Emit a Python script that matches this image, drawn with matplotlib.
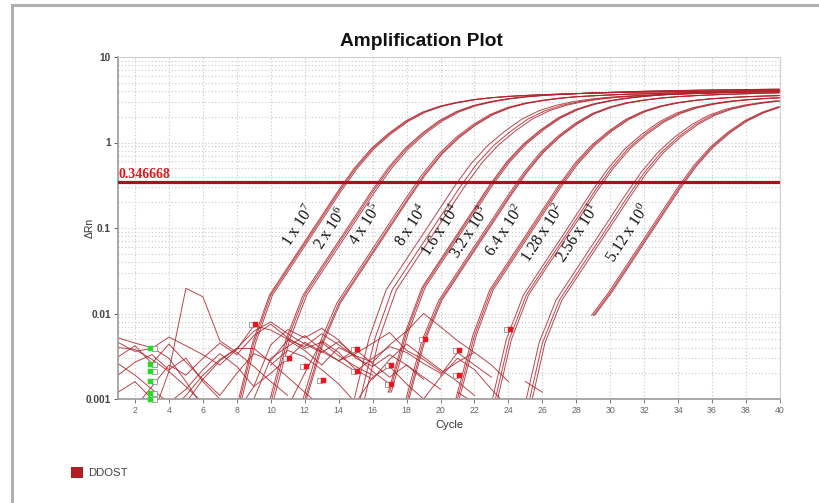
import numpy as np
import matplotlib
matplotlib.use('Agg')
import matplotlib.pyplot as plt
from matplotlib.transforms import offset_copy
from matplotlib.patches import Rectangle

plt.rcParams['font.family'] = ['Liberation Sans', 'DejaVu Sans']
plt.rcParams['mathtext.fontset'] = 'custom'
plt.rcParams['mathtext.rm'] = 'Liberation Serif'
plt.rcParams['mathtext.it'] = 'Liberation Serif:italic'

# ---------------- data ----------------
threshold = 0.346668

dilution_labels = [r'$\mathrm{1\ x\ 10^{7}}$', r'$\mathrm{2\ x\ 10^{6}}$', r'$\mathrm{4\ x\ 10^{5}}$',
                   r'$\mathrm{8\ x\ 10^{4}}$', r'$\mathrm{1.6\ x\ 10^{4}}$', r'$\mathrm{3.2\ x\ 10^{3}}$',
                   r'$\mathrm{6.4\ x\ 10^{2}}$', r'$\mathrm{1.28\ x\ 10^{2}}$', r'$\mathrm{2.56\ x\ 10^{1}}$',
                   r'$\mathrm{5.12\ x\ 10^{0}}$']

# first cycle of each dilution's amplification curve
curve_start = [8, 10, 12, 15, 17, 18, 21, 23, 25, 29]

g1 = [0.0007, 0.0045, 0.0164, 0.0329, 0.0657, 0.131, 0.263, 0.50, 0.85, 1.27, 1.77, 2.26, 2.65, 2.94,
      3.17, 3.34, 3.46, 3.55, 3.62, 3.68, 3.73, 3.78, 3.83, 3.86, 3.89, 3.91, 3.94, 3.96, 3.99, 4.01,
      4.03, 4.04, 4.05]
g2 = [0.0009, 0.0050, 0.0164, 0.0329, 0.0657, 0.131, 0.263, 0.50, 0.85, 1.28, 1.79, 2.29, 2.70, 3.00,
      3.24, 3.42, 3.55, 3.65, 3.73, 3.80, 3.86, 3.92, 3.97, 4.01, 4.05, 4.08, 4.11, 4.14, 4.16, 4.18, 4.20]
g3 = [0.0010, 0.0046, 0.0133, 0.0267, 0.0534, 0.107, 0.214, 0.417, 0.736, 1.14, 1.61, 2.12, 2.55, 2.87,
      3.10, 3.29, 3.43, 3.52, 3.60, 3.67, 3.71, 3.76, 3.81, 3.86, 3.88, 3.91, 3.93, 3.96, 3.98]
g4 = [0.0008, 0.0052, 0.0189, 0.0378, 0.0755, 0.151, 0.302, 0.566, 0.93, 1.36, 1.88, 2.35, 2.72, 3.0,
      3.21, 3.37, 3.48, 3.56, 3.64, 3.69, 3.74, 3.79, 3.84, 3.87, 3.90, 3.92]
g5 = [0.0012, 0.0060, 0.0203, 0.0405, 0.081, 0.162, 0.324, 0.60, 0.975, 1.42, 1.94, 2.42, 2.80, 3.08,
      3.30, 3.47, 3.60, 3.70, 3.79, 3.86, 3.93, 3.99, 4.04, 4.08]
g6 = [0.0009, 0.0048, 0.0143, 0.0286, 0.0572, 0.114, 0.229, 0.443, 0.771, 1.18, 1.66, 2.17, 2.58, 2.90,
      3.13, 3.31, 3.44, 3.53, 3.61, 3.67, 3.72, 3.77, 3.82]
g7 = [0.0010, 0.0055, 0.0189, 0.0378, 0.0755, 0.151, 0.302, 0.566, 0.93, 1.36, 1.86, 2.31, 2.66, 2.92,
      3.11, 3.25, 3.35, 3.43, 3.49, 3.54]
g8 = [0.0007, 0.0050, 0.0164, 0.0329, 0.0657, 0.131, 0.263, 0.50, 0.85, 1.26, 1.74, 2.20, 2.56, 2.82,
      3.02, 3.16, 3.26, 3.34]
g9 = [0.0006, 0.0045, 0.0143, 0.0286, 0.0572, 0.114, 0.229, 0.443, 0.765, 1.16, 1.62, 2.08, 2.45, 2.72,
      2.92, 3.08]
g10 = [0.0095, 0.0176, 0.0352, 0.0704, 0.141, 0.282, 0.532, 0.887, 1.31, 1.79, 2.24, 2.62]
curves = [g1, g2, g3, g4, g5, g6, g7, g8, g9, g10]

# Ct offsets of the three replicates in each dilution (cycles)
rep_shift = [[-0.08, 0.0, 0.1], [-0.1, 0.0, 0.12], [-0.1, 0.02, 0.1], [-0.2, 0.15, 0.4],
             [-0.08, 0.0, 0.1], [-0.1, 0.0, 0.08], [-0.1, 0.0, 0.1], [-0.12, 0.05, 0.18],
             [-0.2, 0.0, 0.15], [-0.1, 0.0, 0.08]]

# baseline noise traces (start cycle, values)
noise_start = [1, 1, 1, 1, 1, 1, 1, 3, 2, 5, 8, 9, 10, 11, 14, 15, 20, 21, 25]
noise_vals = [
    [0.0052, 0.0045, 0.0040, 0.0030, 0.0016, 0.0008],
    [0.0046, 0.0036, 0.0039, 0.0053, 0.0042, 0.0033, 0.0025, 0.0038, 0.0072, 0.0064, 0.0050, 0.0041,
     0.0058, 0.0043, 0.0031],
    [0.0040, 0.0038, 0.0029, 0.0021, 0.0014, 0.0009],
    [0.0031, 0.0042, 0.0026, 0.0044, 0.0027, 0.0017, 0.0011, 0.0020, 0.0034, 0.0028, 0.0049, 0.0037,
     0.0025, 0.0040, 0.0032, 0.0021, 0.0015],
    [0.0026, 0.0019, 0.0013, 0.0009, 0.0013, 0.0022, 0.0034, 0.0024, 0.0014, 0.0020, 0.0030, 0.0046,
     0.0036, 0.0028, 0.0038, 0.0026, 0.0018, 0.0025, 0.0017],
    [0.0019, 0.0027, 0.0033, 0.0022, 0.0030, 0.0016, 0.0010, 0.0007],
    [0.0012, 0.0016, 0.0010, 0.0007, 0.0011, 0.0019, 0.0029, 0.0039, 0.0039, 0.0027, 0.0018, 0.0012,
     0.0008],
    [0.0006, 0.0021, 0.0197, 0.0157, 0.0048, 0.0035, 0.0024, 0.0016, 0.0011],
    [0.0008, 0.0014, 0.0025, 0.0019, 0.0030, 0.0045, 0.0033, 0.0055, 0.0075, 0.0052, 0.0039, 0.0046,
     0.0032, 0.0024, 0.0019],
    [0.0009, 0.0017, 0.0028, 0.0039, 0.0062, 0.0080, 0.0058, 0.0044, 0.0035, 0.0047, 0.0032, 0.0027,
     0.0043, 0.0062, 0.0100, 0.0070, 0.0048, 0.0035],
    [0.0007, 0.0014, 0.0043, 0.0065, 0.0052, 0.0067, 0.0049, 0.0030, 0.0024, 0.0033, 0.0025, 0.0018,
     0.0013],
    [0.0010, 0.0030, 0.0041, 0.0055, 0.0038, 0.0028, 0.0034, 0.0045, 0.0060, 0.0037, 0.0029, 0.0021],
    [0.0025, 0.0037, 0.0031, 0.0022, 0.0015, 0.0009],
    [0.0008, 0.0020, 0.0048, 0.0035, 0.0022, 0.0017, 0.0029, 0.0044, 0.0031, 0.0022, 0.0016, 0.0011],
    [0.0028, 0.0021, 0.0030, 0.0041, 0.0035, 0.0026, 0.0020, 0.0027, 0.0035, 0.0025, 0.0016],
    [0.0009, 0.0018, 0.0024, 0.0015, 0.0010, 0.0018, 0.0030, 0.0022, 0.0013, 0.0008],
    [0.0019, 0.0035, 0.0025, 0.0018],
    [0.0012, 0.0009],
    [0.0016, 0.0012],
]

# baseline markers
green_cycles = [2.9, 2.9, 2.9, 2.9, 2.9, 2.9]
green_vals = [0.0039, 0.0026, 0.0021, 0.00163, 0.00119, 0.00101]
red_cycles = [9.1, 11.1, 12.1, 13.1, 15.1, 15.1, 17.1, 17.1, 19.1, 21.1, 21.1, 24.1]
red_vals = [0.0075, 0.0030, 0.0024, 0.00167, 0.00385, 0.0021, 0.0025, 0.0015, 0.0051, 0.0037, 0.0019,
            0.0065]

# label anchor (cycle, value) for each dilution text
label_cycle = [11.6, 13.5, 15.55, 18.3, 20.0, 21.7, 23.8, 26.0, 28.1, 31.05]
label_value = [0.108, 0.100, 0.111, 0.108, 0.095, 0.090, 0.095, 0.087, 0.087, 0.087]

x_ticks = list(range(2, 41, 2))
y_ticks = [0.001, 0.01, 0.1, 1, 10]
y_ticklabels = ['0.001', '0.01', '0.1', '1', '10']

# ---------------- figure ----------------
W, H = 819, 503
fig = plt.figure(figsize=(W / 100, H / 100), dpi=100)
fig.patches.append(Rectangle((12 / W, -0.1), 1.2, 1.1 - 5 / H, transform=fig.transFigure,
                             fill=False, edgecolor='#b0b0b0', lw=2.2))

ax = fig.add_axes([118 / W, 1 - 399 / H, (780 - 118) / W, (399 - 57) / H])
ax.set_yscale('log')
ax.set_xlim(1, 40)
ax.set_ylim(0.001, 10)

line_color = '#B0242B'
for start, vals, shifts in zip(curve_start, curves, rep_shift):
    cyc = np.arange(start, start + len(vals), dtype=float)
    for s in shifts:
        ax.plot(cyc + s, vals, color=line_color, lw=0.7, alpha=0.85, solid_joinstyle='round')

for start, vals in zip(noise_start, noise_vals):
    cyc = np.arange(start, start + len(vals), dtype=float)
    ax.plot(cyc, vals, color=line_color, lw=0.7, alpha=0.85)

ax.axhline(threshold, color='#A6121B', lw=2.3, zorder=4)
ax.text(1.05, threshold * 1.03, f'{threshold:.6f}', color='#E8141E', fontfamily='Liberation Serif',
        fontweight='bold', fontsize=10, ha='left', va='bottom', zorder=5)

for lab, cx, cy in zip(dilution_labels, label_cycle, label_value):
    ax.text(cx, cy, lab, rotation=57, rotation_mode='anchor', ha='center', va='center',
            fontsize=11.5, color='#111111', zorder=6)

left_off = offset_copy(ax.transData, fig=fig, x=-4, y=0, units='dots')
right_off = offset_copy(ax.transData, fig=fig, x=4, y=0, units='dots')
ax.plot(red_cycles, red_vals, 's', ms=3.6, mfc='white', mec='#909090', mew=0.6,
        transform=left_off, zorder=6, clip_on=False)
ax.plot(red_cycles, red_vals, 's', ms=3.6, mfc='#F0141E', mec='#F0141E', mew=0.3, zorder=7, clip_on=False)
ax.plot(green_cycles, green_vals, 's', ms=3.6, mfc='white', mec='#909090', mew=0.6,
        transform=right_off, zorder=6, clip_on=False)
ax.plot(green_cycles, green_vals, 's', ms=3.6, mfc='#22DD22', mec='#22DD22', mew=0.3, zorder=7,
        clip_on=False)

ax.set_xticks(x_ticks)
ax.set_xticklabels([str(t) for t in x_ticks])
ax.set_yticks(y_ticks)
ax.set_yticklabels(y_ticklabels)
ax.tick_params(axis='x', labelsize=6.3, colors='#666666', length=3, width=0.6, pad=2)
ax.tick_params(axis='y', which='major', labelsize=7.3, colors='#444444', length=3, width=0.6, pad=2)
ax.tick_params(axis='y', which='minor', length=0)
for t in ax.get_yticklabels():
    t.set_fontweight('bold')
ax.grid(True, which='major', axis='x', ls=(0, (1, 2)), color='#c8c8c8', lw=0.8)
ax.grid(True, which='both', axis='y', ls=(0, (1, 2)), color='#c8c8c8', lw=0.8)
ax.set_axisbelow(True)
for side in ['left', 'bottom']:
    ax.spines[side].set_color('#9a9a9a')
    ax.spines[side].set_linewidth(1.2)
for side in ['top', 'right']:
    ax.spines[side].set_color('#d0d0d0')
    ax.spines[side].set_linewidth(0.8)

fig.text(421 / W, 1 - 42 / H, 'Amplification Plot', ha='center', va='center', fontsize=13.8,
         fontweight='bold', color='#111111')
fig.text(449 / W, 1 - 425 / H, 'Cycle', ha='center', va='center', fontsize=8, color='#333333')
fig.text(90 / W, 1 - 228 / H, 'ΔRn', rotation=90, ha='center', va='center', fontsize=7.5,
         color='#333333')

fig.patches.append(Rectangle((71 / W, 1 - 478 / H), 12 / W, 11 / H, transform=fig.transFigure,
                             facecolor='#B01E24', edgecolor='none'))
fig.text(88 / W, 1 - 472.5 / H, 'DDOST', ha='left', va='center', fontsize=8.2, color='#444444')

fig.savefig('out.png', dpi=100)
